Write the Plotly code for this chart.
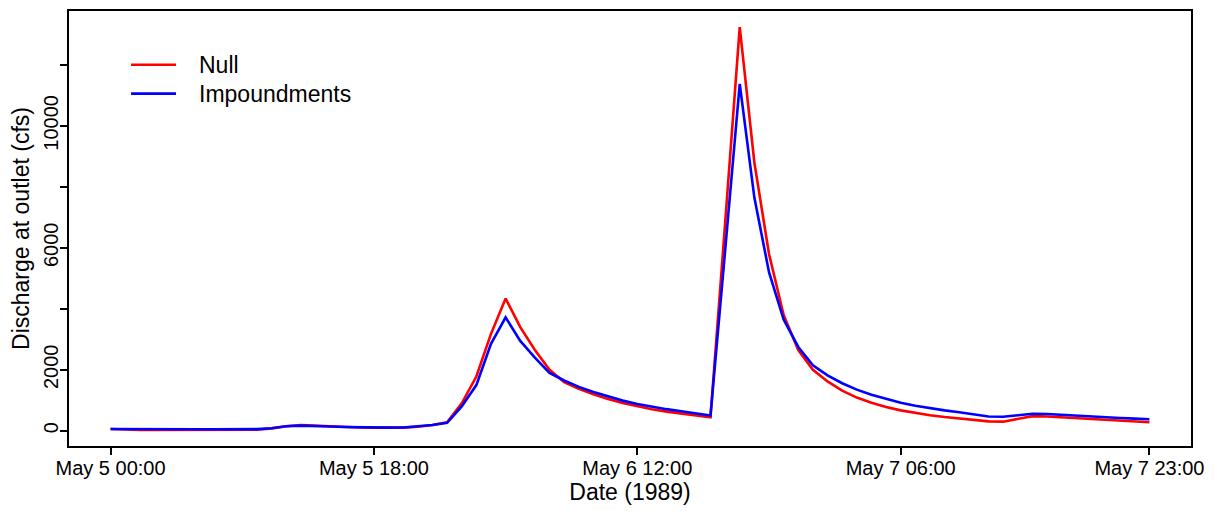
import pandas as pd
import plotly.graph_objects as go

# Hourly discharge at outlet, May 5 00:00 – May 7 23:00, 1989
null_cfs = [
    60, 35, 30, 30, 30, 30, 30, 30, 30, 30, 35, 80,
    150, 190, 170, 135, 120, 110, 105, 100, 105, 135, 190, 280,
    900, 1780, 3180, 4340, 3400, 2650, 2000, 1600, 1380, 1200, 1040, 910,
    800, 710, 630, 570, 510, 440, 6800, 13240, 8800, 5800, 3800, 2650,
    2000, 1620, 1320, 1090, 920, 780, 670, 580, 510, 450, 400, 350,
    310, 300, 380, 480, 470, 440, 410, 380, 350, 330, 300, 280,
]
impound_cfs = [
    60, 55, 50, 50, 50, 50, 50, 50, 50, 50, 55, 85,
    150, 170, 165, 140, 125, 115, 110, 105, 110, 140, 190, 260,
    800, 1500, 2850, 3720, 2950, 2400, 1900, 1650, 1440, 1270, 1120, 990,
    880, 790, 710, 640, 570, 500, 5900, 11380, 7650, 5200, 3650, 2750,
    2150, 1820, 1560, 1350, 1180, 1040, 920, 820, 740, 670, 610, 540,
    470, 460, 500, 560, 550, 520, 490, 460, 440, 420, 400, 380,
]
series_names = ["Null", "Impoundments"]
series_colors = ["#ff0000", "#0000ff"]
tick_labels = ["May 5 00:00", "May 5 18:00", "May 6 12:00", "May 7 06:00", "May 7 23:00"]
tick_hours = [0, 18, 36, 54, 71]

times = pd.date_range("1989-05-05 00:00", periods=len(null_cfs), freq="h")
tick_vals = [times[h] for h in tick_hours]

FONT = "Liberation Sans, Arial, sans-serif"

fig = go.Figure()
for name, vals, col in zip(series_names, [null_cfs, impound_cfs], series_colors):
    fig.add_trace(go.Scatter(x=times, y=vals, mode="lines", name=name,
                             line=dict(color=col, width=2.6), showlegend=False))

# R-style 4% padding on both axes
span = times[-1] - times[0]
xr = [times[0] - 0.04 * span, times[-1] + 0.04 * span]
lo = min(min(null_cfs), min(impound_cfs))
hi = max(max(null_cfs), max(impound_cfs))
pad = 0.04 * (hi - lo)
yr = [lo - pad, hi + pad]

yticks = [0, 2000, 4000, 6000, 8000, 10000, 12000]
ytext = ["0", "2000", "", "6000", "", "10000", ""]

# legend drawn R-style (line sample + label) in paper coordinates
legend_y = [0.8764, 0.8101]
shapes, annotations = [], []
for name, col, ly in zip(series_names, series_colors, legend_y):
    shapes.append(dict(type="line", xref="paper", yref="paper",
                       x0=0.0553, x1=0.0954, y0=ly, y1=ly,
                       line=dict(color=col, width=2.6)))
    annotations.append(dict(xref="paper", yref="paper", x=0.1141, y=ly,
                            xanchor="left", yanchor="middle", text=name,
                            showarrow=False, font=dict(size=23)))

fig.update_layout(
    width=1214, height=511,
    margin=dict(l=69, r=23, t=9, b=65),
    paper_bgcolor="white", plot_bgcolor="white",
    font=dict(family=FONT, color="black", size=20),
    showlegend=False,
    shapes=shapes, annotations=annotations,
    xaxis=dict(range=xr, tickmode="array", tickvals=tick_vals, ticktext=tick_labels,
               showgrid=False, zeroline=False, showline=True, linecolor="black",
               linewidth=2, mirror=True, ticks="outside", ticklen=7, tickwidth=1.5,
               tickcolor="black", tickfont=dict(size=20), ticklabelstandoff=-4,
               title=dict(text="Date (1989)", font=dict(size=23), standoff=3)),
    yaxis=dict(range=yr, tickmode="array", tickvals=yticks, ticktext=ytext,
               showgrid=False, zeroline=False, showline=True, linecolor="black",
               linewidth=2, mirror=True, ticks="outside", ticklen=7, tickwidth=1.5,
               tickcolor="black", tickangle=-90, tickfont=dict(size=20),
               ticklabelstandoff=-6,
               title=dict(text="Discharge at outlet (cfs)", font=dict(size=23), standoff=4)),
)

fig.write_html("out.html")
